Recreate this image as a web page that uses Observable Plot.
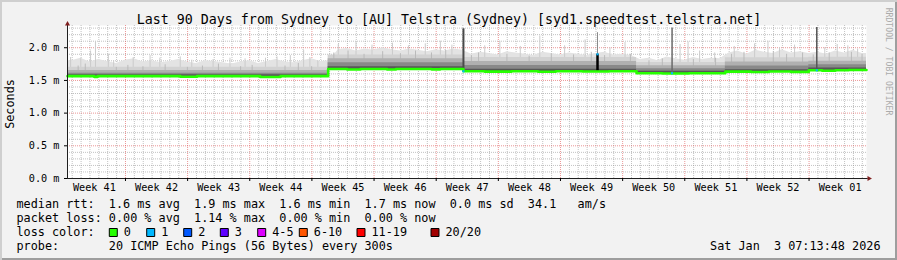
<!DOCTYPE html>
<html><head><meta charset="utf-8">
<script src="https://cdn.jsdelivr.net/npm/d3@7"></script>
<script src="https://cdn.jsdelivr.net/npm/@observablehq/plot@0.6"></script>
<style>
body{margin:0;background:#f2f2f2}
#chart svg{display:block}
#chart text{white-space:pre}
</style>
</head><body><div id="chart"></div>
<script>
// ---------- data ----------
const title = "Last 90 Days from Sydney to [AU] Telstra (Sydney) [syd1.speedtest.telstra.net]";
const yTicks = [0, 0.5, 1.0, 1.5, 2.0];
const weekLabels = ["Week 41","Week 42","Week 43","Week 44","Week 45","Week 46","Week 47","Week 48","Week 49","Week 50","Week 51","Week 52","Week 01"];
const weekMid = [3.03, 10.03, 17.03, 24.03, 31.03, 38.03, 45.03, 52.03, 59.03, 66.03, 73.03, 80.03, 87.03];
const weekLines = [6.53, 13.53, 20.53, 27.53, 34.53, 41.53, 48.53, 55.53, 62.53, 69.53, 76.53, 83.53];

// median rtt (ms) breakpoints, in days from start
const medDay = [0, 3.0, 3.4, 12.7, 14.6, 21.7, 24.0, 29.36, 31.5, 33.0, 36.0, 37.0, 41.0, 42.0, 44.6, 47.0, 50.0, 53.0, 55.0, 58.0, 61.0, 64.1, 67.0, 70.0, 74.1, 77.0, 79.0, 81.5, 83.5, 85.0, 86.5, 88.0];
const medVal = [1.565, 1.555, 1.565, 1.556, 1.565, 1.553, 1.565, 1.675, 1.668, 1.675, 1.666, 1.675, 1.669, 1.675, 1.64, 1.634, 1.64, 1.632, 1.64, 1.636, 1.64, 1.61, 1.605, 1.61, 1.634, 1.628, 1.636, 1.63, 1.655, 1.648, 1.656, 1.66];

// smoke bands per regime (ms)
const segStart  = [0, 29.36, 44.6, 64.1, 74.1, 83.5];
const segBottom = [1.552, 1.655, 1.625, 1.597, 1.620, 1.640];
const segCore   = [1.585, 1.710, 1.670, 1.640, 1.665, 1.690];
const segDark   = [1.610, 1.770, 1.730, 1.680, 1.720, 1.740];
const segMid    = [1.650, 1.830, 1.790, 1.725, 1.780, 1.795];
const segLight  = [1.700, 1.890, 1.850, 1.775, 1.845, 1.855];

// outermost smoke, per day (ms)
const lightTop = [
 1.80,1.84,1.78,1.82,1.79,1.76,1.81,1.83,1.78,1.80,1.77,1.79,1.82,1.78,1.76,1.80,1.79,1.77,1.75,1.78,1.80,1.76,1.79,1.82,1.78,1.77,1.80,1.83,1.79,
 1.80,
 1.97,1.99,1.95,1.98,1.96,2.00,1.97,1.95,1.98,1.96,1.94,1.97,1.95,1.98,1.96,
 1.90,1.93,1.91,1.89,1.94,1.92,1.90,1.88,1.93,1.91,1.89,1.92,1.90,1.88,1.91,1.93,1.89,1.90,1.88,
 1.82,1.84,1.80,1.86,1.83,1.81,1.85,1.82,1.84,1.83,
 1.92,1.95,1.90,1.96,1.93,1.91,1.97,1.92,1.94,1.91,
 1.93,1.90,1.95,1.92,1.96,1.91];

// single-ping smoke spikes (outer, light)
const spikeDay = [0.35, 1.5, 2.6, 3.15, 4.6, 5.2, 7.4, 9.3, 10.4, 12.7, 14.0, 16.4, 18.3, 20.0, 22.3, 23.6, 25.1, 26.6, 27.3, 28.2,
 30.5, 32.5, 34.3, 36.6, 38.4, 40.3, 42.0, 43.3,
 47.0, 48.7, 51.0, 53.2, 56.0, 58.3, 61.1, 62.8,
 69.0, 69.9, 71.2, 72.9,
 75.1, 77.4, 78.9, 80.2, 81.9,
 85.3, 86.7, 87.9, 89.0];
const spikeTop = [1.85, 1.83, 1.95, 2.09, 1.90, 1.80, 1.85, 1.88, 1.84, 1.86, 1.81, 1.82, 1.84, 1.83, 1.84, 1.86, 1.88, 1.96, 1.85, 1.80,
 2.05, 2.08, 2.04, 2.07, 2.03, 2.06, 2.10, 2.04,
 2.03, 2.10, 2.02, 2.18, 2.03, 2.12, 2.00, 2.08,
 2.05, 2.09, 1.95, 1.92,
 2.02, 2.06, 2.10, 2.00, 2.04,
 2.00, 2.05, 2.03, 1.98];

// inner smoke streaks (medium gray)
const midSpikeDay = [1.2, 2.0, 5.5, 6.8, 8.5, 11.0, 13.5, 15.2, 17.0, 19.5, 20.8, 24.5, 26.0, 27.5,
 30.0, 31.6, 33.4, 35.5, 37.5, 39.2, 41.0, 42.6,
 45.5, 46.3, 49.5, 52.0, 54.5, 57.0, 59.0, 60.5, 63.4,
 65.5, 67.0, 70.5, 73.0,
 74.8, 76.2, 79.5, 81.0, 82.8,
 84.0, 85.8, 88.3, 89.5];
const midSpikeTop = [1.72, 1.75, 1.70, 1.73, 1.71, 1.74, 1.70, 1.72, 1.75, 1.71, 1.73, 1.72, 1.76, 1.71,
 1.92, 1.95, 1.90, 1.94, 1.91, 1.95, 1.92, 1.96,
 1.88, 1.92, 1.90, 1.87, 1.91, 1.89, 1.93, 1.88, 1.90,
 1.80, 1.83, 1.82, 1.84,
 1.90, 1.93, 1.94, 1.90, 1.92,
 1.89, 1.92, 1.93, 1.90];

// loss events (1 of 20 lost) with tall max-rtt spikes
const bigDay  = [44.6, 59.7, 68.1, 84.4];
const bigBase = [1.64, 1.64, 1.61, 1.655];
const bigTop  = [2.29, 2.23, 2.30, 2.31];
const bigDark = [1.64, 1.90, 1.61, 1.655];   // top of the black part
const bigLossMark = [1.64, 1.90, 1.61, 1.655];

const statNames = ["avg","max","min","now"];
const rttStats = [1.6, 1.9, 1.6, 1.7];
const rttSd = 0.0, rttAmS = 34.1;
const lossStats = [0.00, 1.14, 0.00, 0.00];
const lossLabels = ["0","1","2","3","4-5","6-10","11-19","20/20"];
const lossColors = ["#26ff00","#00b8ff","#0059ff","#5e00ff","#dd00ff","#ff5500","#ff0000","#a10000"];
const probeText = "20 ICMP Echo Pings (56 Bytes) every 300s";
const stamp = "Sat Jan  3 07:13:48 2026";
const watermark = "RRDTOOL / TOBI OETIKER";

// ---------- derived tables ----------
const segIndex = d => { let k = 0; segStart.forEach((s, i) => { if (d >= s) k = i; }); return k; };
const segRows = segStart.map((s, i) => ({x: s, b: segBottom[i], core: segCore[i], dark: segDark[i], mid: segMid[i], light: segLight[i]}));
segRows.push({...segRows[segRows.length - 1], x: 90});
const dayRows = lightTop.map((v, i) => ({x: i + 0.5, top: v, b: segBottom[segIndex(i + 0.5)]}));
dayRows.unshift({...dayRows[0], x: 0});
dayRows.push({...dayRows[dayRows.length - 1], x: 90});
const medRows = medDay.map((d, i) => ({x: d, y: medVal[i]}));
medRows.push({x: 90, y: medVal[medVal.length - 1]});
const spikeRows = spikeDay.map((d, i) => ({x: d, y1: segBottom[segIndex(d)], y2: spikeTop[i]}));
const midSpikeRows = midSpikeDay.map((d, i) => ({x: d, y1: segBottom[segIndex(d)], y2: midSpikeTop[i]}));
const bigRows = bigDay.map((d, i) => ({x: d, base: bigBase[i], top: bigTop[i], dark: bigDark[i], mark: bigLossMark[i]}));

const minorY = d3.range(1, 24).filter(k => k % 5 !== 0).map(k => k / 10);
const minorX = d3.range(0, 90).map(k => 0.53 + k).filter(d => !weekLines.some(w => Math.abs(w - d) < 0.01));

const line1 = "median rtt:  " + rttStats.map((v, i) => `${v.toFixed(1)} ms ${statNames[i]}`).join("  ") + `  ${rttSd.toFixed(1)} ms sd  ${rttAmS.toFixed(1)}   am/s`;
const line2 = "packet loss: " + lossStats.map((v, i) => `${v.toFixed(2)} % ${statNames[i]}`).join("  ");
const line3 = "loss color:";
const line4 = "probe:       " + probeText;

// ---------- layout constants ----------
const FONT = "'DejaVu Sans Mono', monospace";
const boxLeft = [108.3, 145.7, 182.7, 219.3, 256.7, 298.3, 356, 430];
const L0 = 67, B0 = 178; // frame left / bottom in px
const LEG = 11.8;

const legendMarks = lossLabels.flatMap((lab, i) => [
  Plot.dot([lab], {frameAnchor: "bottom-left", dx: boxLeft[i] + 4.5 - L0, dy: 232 - B0, symbol: "square", r: 4.5, fill: lossColors[i], stroke: "black", strokeWidth: 1}),
  Plot.text([lab], {frameAnchor: "bottom-left", dx: boxLeft[i] + 15 - L0, dy: 232 - B0, textAnchor: "start", lineAnchor: "middle", fontSize: LEG, fontFamily: FONT, fill: "black"})
]);
const legendLine = (txt, y) => Plot.text([txt], {frameAnchor: "bottom-left", dx: 16 - L0, dy: y - B0, textAnchor: "start", lineAnchor: "middle", fontSize: LEG, fontFamily: FONT, fill: "black"});

const chart = Plot.plot({
  width: 897, height: 260,
  marginLeft: 67, marginRight: 31, marginTop: 25, marginBottom: 82,
  x: {domain: [0, 90]},
  y: {domain: [0, 2.34]},
  style: {background: "#f2f2f2", fontFamily: FONT, boxShadow: "inset 2px 2px 0 #cfcfcf, inset -2px -2px 0 #9e9e9e", overflow: "visible"},
  marks: [
    Plot.frame({fill: "white", stroke: null}),
    // grid
    Plot.gridY(minorY, {stroke: "#8f8f8f", strokeOpacity: 0.55, strokeDasharray: "1,1"}),
    Plot.gridX(minorX, {stroke: "#8f8f8f", strokeOpacity: 0.55, strokeDasharray: "1,1"}),
    Plot.gridY(yTicks.slice(1), {stroke: "#de5050", strokeOpacity: 0.6, strokeDasharray: "1,1"}),
    Plot.gridX(weekLines, {stroke: "#de5050", strokeOpacity: 0.6, strokeDasharray: "1,1"}),
    // smoke
    Plot.areaY(dayRows, {x: "x", y1: "b", y2: "top", curve: "linear", fill: "#e3e3e3"}),
    Plot.ruleX(spikeRows, {x: "x", y1: "y1", y2: "y2", stroke: "#cbcbcb", strokeWidth: 1}),
    Plot.areaY(segRows, {x: "x", y1: "b", y2: "light", curve: "step-after", fill: "#d2d2d2"}),
    Plot.ruleX(midSpikeRows, {x: "x", y1: "y1", y2: "y2", stroke: "#bababa", strokeWidth: 1}),
    Plot.areaY(segRows, {x: "x", y1: "b", y2: "mid", curve: "step-after", fill: "#b0b0b0"}),
    Plot.areaY(segRows, {x: "x", y1: "b", y2: "dark", curve: "step-after", fill: "#898989"}),
    Plot.areaY(segRows, {x: "x", y1: "b", y2: "core", curve: "step-after", fill: "#575757"}),
    // tall spikes
    Plot.ruleX(bigRows, {x: "x", y1: "base", y2: "top", stroke: (d, i) => ["#4a4a4a", "#8a8a8a", "#6a6a6a", "#555555"][i], strokeWidth: (d, i) => [2, 1, 1.5, 1.5][i]}),
    Plot.ruleX(bigRows, {x: "x", y1: "base", y2: "dark", stroke: "black", strokeWidth: 2.5}),
    // median
    Plot.line(medRows, {x: "x", y: "y", curve: "step-after", stroke: lossColors[0], strokeWidth: 2.6}),
    Plot.dot(bigRows, {x: "x", y: "mark", symbol: "square", r: 1.2, fill: lossColors[1], stroke: null}),
    // axes
    Plot.ruleX([0], {y1: 0, y2: 2.36, stroke: "#1f1f1f"}),
    Plot.ruleY([0], {x1: 0, x2: 90.2, stroke: "#1f1f1f"}),
    Plot.dot([0], {x: 0, y: 2.362, symbol: "triangle", r: 1.9, fill: "#801f1f", stroke: null}),
    Plot.dot([0], {x: 90.28, y: 0, symbol: "triangle", r: 1.9, rotate: 90, fill: "#801f1f", stroke: null}),
    Plot.axisY({ticks: yTicks, tickFormat: d => d.toFixed(1) + " m", tickSize: 3, tickPadding: 5, fontSize: 10.2, fontFamily: FONT, label: null}),
    Plot.axisX({ticks: weekLines, tickFormat: () => "", tickSize: 3, label: null}),
    Plot.axisX({ticks: weekMid, tickFormat: d => weekLabels[weekMid.indexOf(d)], tickSize: 0, tickPadding: 5.5, fontSize: 10.2, fontFamily: FONT, label: null}),
    // texts
    Plot.text([title], {frameAnchor: "top", dx: 448.5 - 466.5, dy: -5.3, textAnchor: "middle", lineAnchor: "middle", fontSize: 13.3, fontFamily: FONT, fill: "black"}),
    Plot.text(["Seconds"], {frameAnchor: "left", dx: 10 - L0, dy: 2, rotate: -90, textAnchor: "middle", lineAnchor: "middle", fontSize: LEG, fontFamily: FONT, fill: "black"}),
    Plot.text([watermark], {frameAnchor: "top-right", dx: 22, dy: 36, rotate: 90, textAnchor: "middle", lineAnchor: "middle", fontSize: 8.15, fontFamily: FONT, fill: "#ababab"}),
    legendLine(line1, 204),
    legendLine(line2, 218),
    legendLine(line3, 232),
    legendLine(line4, 246),
    Plot.text([stamp], {frameAnchor: "bottom-right", dx: 880 - 866, dy: 246 - B0, textAnchor: "end", lineAnchor: "middle", fontSize: LEG, fontFamily: FONT, fill: "black"}),
    ...legendMarks
  ]
});
document.getElementById("chart").appendChild(chart);
</script>
</body></html>
